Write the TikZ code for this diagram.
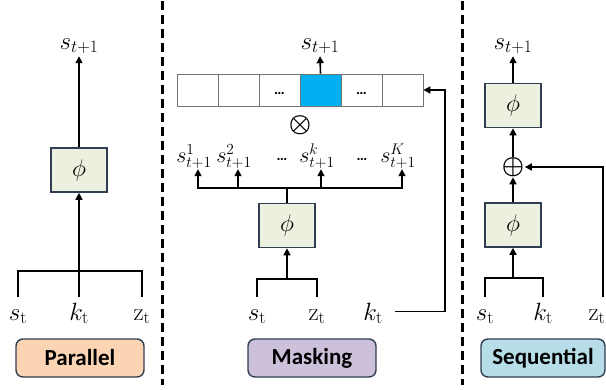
\RequirePackage{fix-cm}
\documentclass[tikz,border=0pt]{standalone}
\usepackage{amsmath}
\usepackage{fontspec}
\newfontfamily\boxfont{Carlito}
\usetikzlibrary{arrows.meta}

\definecolor{edgeblue}{HTML}{2F3E50}
\definecolor{phigreen}{HTML}{EBF1DE}
\definecolor{parorange}{HTML}{FBD4B4}
\definecolor{maskpurple}{HTML}{CCC0DA}
\definecolor{seqblue}{HTML}{B7DEE8}
\definecolor{maskcyan}{HTML}{00B0F0}

\tikzset{
  wire/.style={line width=1.6pt, line join=miter},
  tip/.style={-{Triangle[length=7pt,width=7pt]}},
  phibox/.style={draw=edgeblue, fill=phigreen, line width=1.6pt,
    minimum width=56pt, minimum height=44pt, font=\fontsize{24}{28}\selectfont},
  namebox/.style={draw=edgeblue, line width=1.4pt, rounded corners=7pt,
    minimum height=38pt, font=\boxfont\bfseries\fontsize{23}{27}\selectfont},
  inlbl/.style={anchor=base, inner sep=0pt, text height=23pt, text depth=6pt,
    font=\fontsize{25}{29}\selectfont},
  outlbl/.style={anchor=base, inner sep=0pt, text depth=7pt,
    font=\fontsize{25}{29}\selectfont},
  rowlbl/.style={outlbl, font=\fontsize{22}{26}\selectfont},
  opsym/.style={inner sep=0.5pt, font=\fontsize{25}{29}\selectfont},
  dots/.style={anchor=base, inner sep=0pt, font=\boxfont\bfseries\fontsize{15}{18}\selectfont},
  cell/.style={draw=black!55, line width=0.8pt, minimum width=41pt,
    minimum height=32pt, inner sep=0pt, text height=8pt, text depth=0pt,
    font=\boxfont\bfseries\fontsize{15}{18}\selectfont},
  divider/.style={line width=3pt, dash pattern=on 9pt off 5pt}
}

\begin{document}
\begin{tikzpicture}[x=1pt,y=-1pt]
        \useasboundingbox (0,0) rectangle (606,389);

        % dividers
        \draw [divider] (162,1) -- (162,385);
        \draw [divider] (462,1) -- (462,385);

        % parallel
        \node [phibox] (p-phi) at (79,170) {$\phi$};
        \node [outlbl] (p-out) at (79,49) {$s_{t+1}$};
        \node [inlbl] (p-s) at (18,320) {$s_\mathrm{t}$};
        \node [inlbl] (p-k) at (79,320) {$k_\mathrm{t}$};
        \node [inlbl] (p-z) at (142,320) {$\mathrm{z}_\mathrm{t}$};
        \coordinate (p-j) at (79,271);
        \draw [wire] (p-s.north) |- (p-j) -| (p-z.north);
        \draw [wire,tip] (p-k.north) -- (p-phi.south);
        \draw [wire,tip] (p-phi.north) -- (p-out.south);
        \node [namebox,fill=parorange,minimum width=128pt] (p-name) at (80,358) {Parallel};

        % masking
        \foreach \i in {1,...,6}
          \node [cell] (m-c\i) at (156.5+41*\i,90) {};
        \node [cell,fill=maskcyan] at (m-c4) {};
        \node [cell,draw=none] at (m-c3) {…};
        \node [cell,draw=none] at (m-c5) {…};
        \node [outlbl] (m-out) at (320,49) {$s_{t+1}$};
        \draw [wire,tip] (m-c4.north) -- (m-out.south);
        \node [opsym] (m-times) at (300,125) {$\boldsymbol{\otimes}$};

        \foreach \n/\x in {1/194,2/234,k/317,K/398}
          \node [rowlbl] (m-o\n) at (\x,162) {$s_{t+1}^{\n}$};
        \node [dots] (m-d1) at (282,160) {…};
        \node [dots] (m-d2) at (362,160) {…};

        \node [phibox] (m-phi) at (287,225.5) {$\phi$};
        \coordinate (m-j) at (287,188);
        \draw [wire] (m-phi.north) -- (m-j);
        \foreach \n in {1,2,k,K}
          \draw [wire,tip] (m-j) -| ([xshift=4pt]m-o\n.south);

        \node [inlbl] (m-s) at (257,320) {$s_\mathrm{t}$};
        \node [inlbl] (m-z) at (317,320) {$\mathrm{z}_\mathrm{t}$};
        \node [inlbl] (m-k) at (373,320) {$k_\mathrm{t}$};
        \coordinate (m-j2) at (287,279);
        \draw [wire] (m-s.north) |- (m-j2) -| (m-z.north);
        \draw [wire,tip] (m-j2) -- (m-phi.south);
        \coordinate (m-turn) at (445,90);
        \draw [wire,tip] ([xshift=12pt]m-k.east) -| (m-turn) -- (m-c6.east);
        \node [namebox,fill=maskpurple,minimum width=128pt] (m-name) at (312,358) {Masking};

        % sequential
        \node [outlbl] (s-out) at (513,49) {$s_{t+1}$};
        \node [phibox] (s-phi2) at (513,105.5) {$\phi$};
        \node [opsym] (s-plus) at (513,167) {$\boldsymbol{\oplus}$};
        \node [phibox] (s-phi1) at (513,225) {$\phi$};
        \node [inlbl] (s-s) at (485,320) {$s_\mathrm{t}$};
        \node [inlbl] (s-k) at (543,320) {$k_\mathrm{t}$};
        \node [inlbl] (s-z) at (597,320) {$\mathrm{z}_\mathrm{t}$};
        \coordinate (s-j) at (513,278);
        \draw [wire] (s-s.north) |- (s-j) -| (s-k.north);
        \draw [wire,tip] (s-j) -- (s-phi1.south);
        \draw [wire,tip] (s-phi1.north) -- (s-plus.south);
        \draw [wire,tip] (s-plus.north) -- (s-phi2.south);
        \draw [wire,tip] (s-phi2.north) -- (s-out.south);
        \draw [wire,tip] ([xshift=6pt]s-z.north) |- (s-plus.east);
        \node [namebox,fill=seqblue,minimum width=124pt] (s-name) at (543,358) {Sequential};

\end{tikzpicture}
\end{document}
